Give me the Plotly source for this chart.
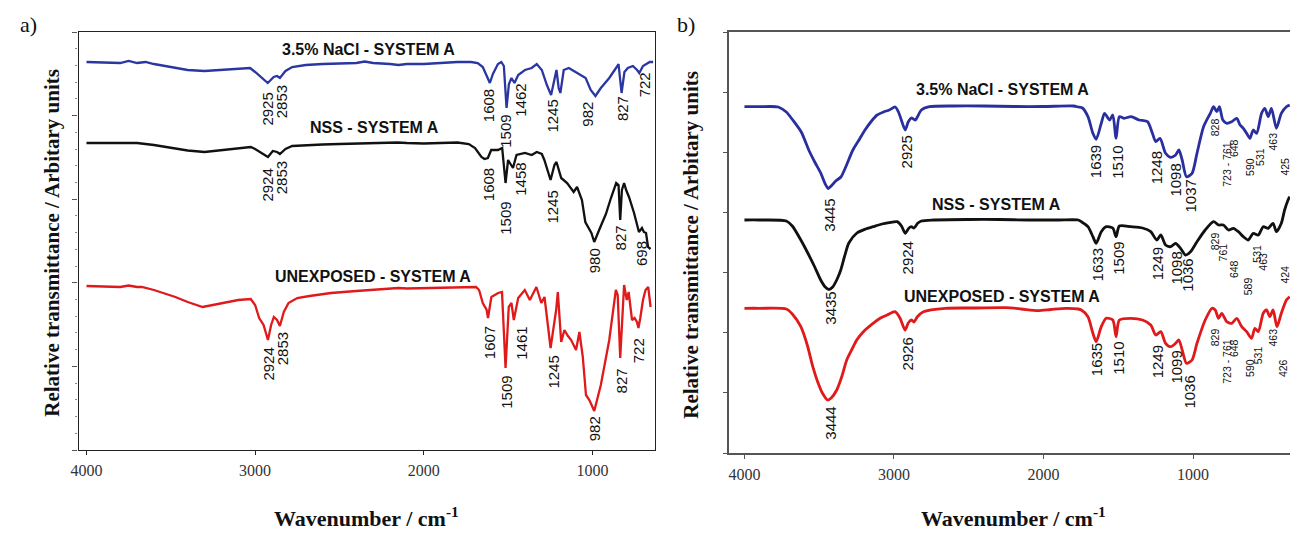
import plotly.graph_objects as go

# ---------------- DATA ----------------
# Panel a) : wavenumber (cm-1) and relative transmittance (arbitrary units)
a_nacl_wn = [4000, 3900, 3800, 3750, 3720, 3700, 3650, 3600, 3500, 3400,
             3300, 3200, 3100, 3030, 3000, 2960, 2925, 2890, 2870, 2853,
             2820, 2780, 2700, 2600, 2500, 2400, 2350, 2300, 2200, 2150,
             2100, 2000, 1900, 1800, 1720, 1680, 1650, 1620, 1608, 1590,
             1560, 1540, 1525, 1509, 1495, 1480, 1462, 1440, 1400, 1360,
             1330, 1300, 1270, 1245, 1225, 1213, 1200, 1190, 1170, 1140,
             1100, 1070, 1040, 1010, 982, 950, 900, 860, 845, 827,
             810, 790, 760, 735, 722, 700, 660, 640]
a_nacl_val = [38.8, 38.75, 38.7, 38.9, 38.8, 38.7, 38.8, 38.6, 38.3, 38.0,
              37.9, 38.0, 38.1, 38.2, 37.8, 37.2, 36.7, 37.3, 37.4, 37.2,
              37.9, 38.3, 38.5, 38.6, 38.65, 38.7, 38.85, 38.7, 38.6, 38.5,
              38.6, 38.6, 38.7, 38.8, 38.8, 38.7, 38.3, 37.2, 36.7, 37.6,
              38.6, 38.8, 38.4, 34.2, 36.6, 37.2, 36.7, 37.5, 38.0, 38.2,
              38.6, 38.0, 36.5, 35.5, 37.0, 38.0, 36.2, 35.7, 38.0, 38.2,
              37.8, 37.5, 37.2, 36.0, 35.4, 36.2, 37.2, 38.2, 38.6, 35.7,
              37.8, 38.2, 38.4, 38.0, 37.7, 38.4, 38.8, 38.8]

a_nss_wn = [4000, 3900, 3800, 3700, 3600, 3500, 3400, 3300, 3200, 3100,
            3026, 3000, 2960, 2924, 2895, 2870, 2853, 2820, 2780, 2700,
            2600, 2500, 2400, 2300, 2200, 2156, 2100, 2000, 1900, 1800,
            1733, 1696, 1658, 1640, 1620, 1600, 1560, 1535, 1515, 1500,
            1471, 1450, 1400, 1360, 1330, 1300, 1285, 1248, 1225, 1213,
            1185, 1150, 1111, 1091, 1062, 1042, 1006, 989, 960, 920,
            890, 859, 845, 835, 825, 812, 800, 783, 753, 735,
            724, 706, 695, 682, 670, 655]
a_nss_val = [30.7, 30.7, 30.75, 30.7, 30.5, 30.2, 29.95, 29.8, 30.0, 30.2,
             30.3, 30.1, 29.7, 29.3, 29.9, 29.8, 29.6, 30.1, 30.4, 30.5,
             30.55, 30.6, 30.65, 30.7, 30.7, 30.75, 30.7, 30.65, 30.7, 30.75,
             30.6, 30.2, 29.3, 29.1, 29.2, 30.0, 30.0, 30.2, 26.7, 29.0,
             28.2, 29.5, 29.7, 29.5, 29.8, 29.6, 29.0, 27.0, 28.5, 28.8,
             27.2, 26.7, 25.8, 26.3, 25.0, 22.8, 21.7, 20.8, 22.0, 23.6,
             25.2, 26.7, 26.5, 23.0, 26.0, 26.7, 26.0, 25.3, 23.7, 22.5,
             21.8, 22.2, 21.8, 21.7, 20.3, 20.1]

a_unexp_wn = [4000, 3900, 3800, 3750, 3700, 3672, 3600, 3473, 3400, 3311,
              3250, 3175, 3100, 3026, 3000, 2976, 2950, 2924, 2905, 2889,
              2870, 2853, 2830, 2802, 2750, 2678, 2550, 2400, 2230, 2150,
              2100, 1982, 1850, 1733, 1690, 1672, 1650, 1627, 1619, 1599,
              1559, 1536, 1515, 1496, 1480, 1466, 1440, 1401, 1385, 1371,
              1332, 1303, 1284, 1248, 1215, 1205, 1185, 1166, 1145, 1126,
              1097, 1077, 1057, 1038, 1018, 989, 950, 900, 861, 850,
              835, 812, 796, 785, 765, 750, 736, 727, 716, 700,
              685, 669, 655]
a_unexp_val = [16.4, 16.35, 16.3, 16.45, 16.3, 16.3, 16.0, 15.3, 14.8, 14.3,
               14.5, 14.8, 15.0, 15.1, 14.5, 13.2, 12.5, 11.0, 12.5, 13.3,
               13.0, 12.4, 13.8, 14.7, 15.2, 15.4, 15.7, 15.9, 16.1, 16.2,
               16.15, 16.2, 16.3, 16.3, 16.3, 16.0, 14.7, 14.0, 13.2, 15.3,
               15.7, 15.8, 8.2, 14.3, 14.7, 13.0, 15.2, 16.0, 15.5, 15.0,
               16.3, 14.7, 15.3, 10.2, 14.0, 15.8, 10.8, 12.0, 11.4, 11.0,
               10.0, 11.8, 9.3, 5.5, 5.0, 3.9, 6.5, 11.0, 16.0, 15.5,
               9.2, 16.5, 15.0, 15.8, 13.0, 13.2, 12.8, 12.2, 13.2, 15.0,
               16.0, 16.3, 14.3]

# Panel b)
b_nacl_wn = [4000, 3900, 3774, 3720, 3677, 3620, 3570, 3530, 3490, 3460,
             3440, 3420, 3390, 3355, 3320, 3275, 3230, 3194, 3150, 3113,
             3070, 3032, 2992, 2970, 2951, 2925, 2905, 2884, 2870, 2857,
             2817, 2763, 2600, 2400, 2200, 2000, 1800, 1768, 1740, 1703,
             1670, 1648, 1614, 1592, 1559, 1537, 1515, 1493, 1460, 1415,
             1360, 1305, 1272, 1250, 1221, 1184, 1150, 1117, 1095, 1073,
             1044, 1007, 974, 930, 885, 863, 841, 824, 801, 775,
             742, 708, 686, 664, 642, 620, 598, 575, 542, 520,
             498, 476, 443, 410, 376, 354]
b_nacl_val = [34.63, 34.63, 34.6, 34.1, 33.3, 32.1, 30.3, 29.1, 28.0, 26.9,
              26.45, 26.7, 27.2, 27.6, 28.7, 30.3, 31.4, 32.3, 33.2, 33.8,
              34.1, 34.3, 34.6, 34.1, 33.3, 32.3, 33.1, 33.5, 33.4, 33.3,
              34.3, 34.63, 34.7, 34.7, 34.65, 34.65, 34.7, 34.6, 34.5, 33.63,
              31.97, 31.37, 32.97, 33.97, 33.3, 33.8, 31.47, 33.63, 33.47, 33.63,
              33.3, 33.13, 31.97, 31.13, 31.47, 29.97, 29.57, 29.8, 30.3, 29.3,
              27.63, 27.97, 29.97, 32.63, 33.97, 34.63, 34.13, 34.63, 33.3, 32.97,
              33.13, 33.47, 32.8, 32.47, 31.97, 31.47, 32.3, 31.97, 33.97, 34.47,
              33.63, 34.47, 32.47, 33.97, 34.63, 34.8]

b_nss_wn = [4000, 3900, 3720, 3680, 3623, 3580, 3530, 3490, 3460, 3435,
            3410, 3380, 3356, 3330, 3302, 3248, 3190, 3140, 3080, 3033,
            2979, 2950, 2925, 2900, 2884, 2866, 2840, 2817, 2737, 2500,
            2300, 2100, 1900, 1768, 1747, 1703, 1670, 1648, 1614, 1581,
            1537, 1515, 1493, 1415, 1338, 1283, 1243, 1216, 1184, 1150,
            1117, 1084, 1051, 1017, 974, 919, 863, 830, 797, 764,
            731, 697, 664, 631, 598, 564, 531, 498, 465, 443,
            410, 388, 365, 354]
b_nss_val = [23.3, 23.3, 23.2, 22.7, 21.3, 20.1, 18.6, 17.3, 16.6, 16.35,
             16.6, 17.4, 18.3, 19.7, 21.0, 22.0, 22.4, 22.63, 22.9, 23.03,
             23.13, 22.7, 21.97, 22.5, 22.63, 22.5, 23.0, 23.2, 23.3, 23.35,
             23.35, 23.3, 23.3, 23.3, 23.13, 22.63, 21.63, 20.97, 22.13, 22.63,
             22.5, 21.63, 22.7, 22.63, 22.5, 22.13, 21.3, 21.8, 20.8, 20.63,
             20.97, 20.47, 19.8, 20.13, 21.13, 22.3, 23.13, 22.8, 22.8, 22.3,
             22.47, 22.13, 21.63, 21.3, 21.97, 21.8, 22.63, 22.47, 22.97, 22.13,
             22.97, 24.3, 25.3, 25.63]

b_unexp_wn = [4000, 3900, 3720, 3680, 3623, 3580, 3543, 3510, 3478, 3444,
              3420, 3383, 3350, 3316, 3280, 3249, 3200, 3140, 3090, 3046,
              2993, 2960, 2926, 2905, 2884, 2866, 2845, 2803, 2656, 2450,
              2253, 2150, 2038, 1950, 1850, 1768, 1747, 1703, 1670, 1648,
              1614, 1581, 1537, 1515, 1493, 1415, 1338, 1283, 1250, 1216,
              1184, 1150, 1117, 1095, 1073, 1044, 1007, 974, 919, 874,
              852, 830, 808, 775, 742, 708, 675, 642, 609, 587,
              564, 531, 509, 487, 465, 439, 410, 376, 354]
b_unexp_val = [14.47, 14.47, 14.4, 13.9, 12.63, 10.8, 8.63, 7.1, 5.97, 5.3,
               5.5, 6.3, 7.6, 9.3, 10.4, 11.3, 12.2, 12.97, 13.5, 13.8,
               14.13, 13.5, 12.3, 13.0, 13.3, 13.1, 13.6, 14.13, 14.47, 14.5,
               14.53, 14.4, 14.23, 14.35, 14.47, 14.4, 14.3, 13.63, 11.97, 11.13,
               12.63, 13.47, 13.3, 11.63, 13.3, 13.47, 13.3, 12.8, 11.8, 12.13,
               10.97, 10.63, 10.97, 11.3, 10.3, 8.97, 9.3, 10.97, 13.3, 14.47,
               14.3, 13.47, 13.97, 13.13, 12.97, 13.47, 12.63, 12.13, 11.47, 12.47,
               12.13, 13.97, 14.3, 13.63, 14.3, 12.63, 13.97, 15.3, 15.63]

# Series names
series_names = ["3.5% NaCl - SYSTEM A", "NSS - SYSTEM A", "UNEXPOSED - SYSTEM A"]
a_name_wn = [2330, 2292, 2300]
a_name_y = [40.0, 32.2, 17.4]
b_name_wn = [2272, 2312, 2279]
b_name_y = [36.3, 24.8, 15.7]

# Peak labels, panel a)
a_nacl_lbl = ["2925", "2853", "1608", "1509", "1462", "1245", "982", "827", "722"]
a_nacl_lbl_wn = [2926, 2839, 1612, 1514, 1425, 1236, 1028, 818, 686]
a_nacl_lbl_y = [34.1, 34.8, 34.4, 31.9, 35.0, 33.4, 33.6, 34.1, 36.5]

a_nss_lbl = ["2924", "2853", "1608", "1509", "1458", "1245", "980", "827", "698"]
a_nss_lbl_wn = [2926, 2839, 1612, 1514, 1425, 1236, 989, 828, 706]
a_nss_lbl_y = [26.5, 27.2, 26.5, 23.2, 27.1, 24.3, 18.9, 21.2, 19.7]

a_unexp_lbl = ["2924", "2853", "1607", "1509", "1461", "1245", "982", "827", "722"]
a_unexp_lbl_wn = [2926, 2839, 1612, 1514, 1425, 1236, 989, 828, 728]
a_unexp_lbl_y = [8.6, 10.1, 10.7, 5.8, 10.7, 7.8, 2.1, 6.9, 9.9]

# Peak labels, panel b)
b_nacl_lbl = ["3445", "2925", "1639", "1510", "1248", "1098", "1037", "828",
              "723 - 761", "648", "590", "531", "463", "425"]
b_nacl_lbl_wn = [3430, 2910, 1648, 1504, 1239, 1117, 1017, 852, 775, 726, 620, 553, 469, 388]
b_nacl_lbl_y = [23.8, 30.1, 29.1, 29.1, 28.5, 27.3, 25.7, 32.6, 28.9, 30.5, 28.6, 29.6, 31.1, 28.6]

b_nss_lbl = ["3435", "2924", "1633", "1509", "1249", "1098", "1036", "829",
             "761", "648", "589", "531", "463", "424"]
b_nss_lbl_wn = [3430, 2910, 1640, 1504, 1239, 1117, 1043, 852, 797, 726, 631, 575, 535, 388]
b_nss_lbl_y = [14.5, 19.5, 18.8, 19.5, 18.9, 18.5, 17.8, 21.2, 20.1, 18.4, 16.7, 19.9, 19.1, 17.8]

b_unexp_lbl = ["3444", "2926", "1635", "1510", "1249", "1099", "1036", "829",
               "723 - 761", "648", "590", "531", "463", "426"]
b_unexp_lbl_wn = [3430, 2910, 1648, 1504, 1239, 1117, 1030, 852, 775, 726, 620, 564, 469, 398]
b_unexp_lbl_y = [3.0, 9.9, 9.3, 9.5, 9.1, 8.6, 6.1, 11.6, 9.2, 10.5, 8.5, 9.8, 11.5, 8.5]

x_ticks = [4000, 3000, 2000, 1000]

# ---------------- STYLE ----------------
W, H = 1290, 536
SANS = "Liberation Sans"
SERIF = "Liberation Serif"
BLUE_A, BLUE_B = "#2a36a2", "#2a2f9e"
BLACK = "#111111"
RED = "#e0191b"


def px_x(p):
    return p / W


def px_y(p):
    return (H - p) / H


fig = go.Figure()

panel_a = [(a_nacl_wn, a_nacl_val, BLUE_A), (a_nss_wn, a_nss_val, BLACK),
           (a_unexp_wn, a_unexp_val, RED)]
for wn, val, col in panel_a:
    fig.add_trace(go.Scatter(x=wn, y=val, mode="lines", xaxis="x", yaxis="y",
                             line=dict(color=col, width=2.3), hoverinfo="skip",
                             showlegend=False))

panel_b = [(b_nacl_wn, b_nacl_val, BLUE_B), (b_nss_wn, b_nss_val, BLACK),
           (b_unexp_wn, b_unexp_val, RED)]
for wn, val, col in panel_b:
    fig.add_trace(go.Scatter(x=wn, y=val, mode="lines", xaxis="x2", yaxis="y2",
                             line=dict(color=col, width=2.8, shape="spline", smoothing=0.7),
                             hoverinfo="skip", showlegend=False))

ann = []


def peak_labels(labels, wns, ys, xref, yref, small_below=None):
    for t, w, y in zip(labels, wns, ys):
        size = 15
        if small_below is not None and w < small_below:
            size = 10.5
        ann.append(dict(x=w, y=y, xref=xref, yref=yref, text=t, showarrow=False,
                        textangle=-90, xanchor="center", yanchor="middle",
                        font=dict(family=SANS, size=size, color="#111")))


peak_labels(a_nacl_lbl, a_nacl_lbl_wn, a_nacl_lbl_y, "x", "y")
peak_labels(a_nss_lbl, a_nss_lbl_wn, a_nss_lbl_y, "x", "y")
peak_labels(a_unexp_lbl, a_unexp_lbl_wn, a_unexp_lbl_y, "x", "y")
peak_labels(b_nacl_lbl, b_nacl_lbl_wn, b_nacl_lbl_y, "x2", "y2", small_below=900)
peak_labels(b_nss_lbl, b_nss_lbl_wn, b_nss_lbl_y, "x2", "y2", small_below=900)
peak_labels(b_unexp_lbl, b_unexp_lbl_wn, b_unexp_lbl_y, "x2", "y2", small_below=900)

for name, w, y in zip(series_names, a_name_wn, a_name_y):
    ann.append(dict(x=w, y=y, xref="x", yref="y", text=f"<b>{name}</b>", showarrow=False,
                    xanchor="center", yanchor="middle",
                    font=dict(family=SANS, size=16, color="#111")))
for name, w, y in zip(series_names, b_name_wn, b_name_y):
    ann.append(dict(x=w, y=y, xref="x2", yref="y2", text=f"<b>{name}</b>", showarrow=False,
                    xanchor="center", yanchor="middle",
                    font=dict(family=SANS, size=16, color="#111")))

ytitle = "<b>Relative transmittance / Arbitary units</b>"
xtitle = "<b>Wavenumber / cm<sup>-1</sup></b>"
for xp, yp in [(44, 243), (687, 245)]:
    ann.append(dict(x=px_x(xp), y=px_y(yp), xref="paper", yref="paper", text=ytitle,
                    textangle=-90, showarrow=False, xanchor="center", yanchor="middle",
                    font=dict(family=SERIF, size=21, color="#111")))
for xp in [361, 1012]:
    ann.append(dict(x=px_x(xp), y=px_y(517), xref="paper", yref="paper", text=xtitle,
                    showarrow=False, xanchor="center", yanchor="middle",
                    font=dict(family=SERIF, size=22, color="#111")))
for txt, xp in [("a)", 21), ("b)", 682)]:
    ann.append(dict(x=px_x(xp), y=px_y(24), xref="paper", yref="paper", text=txt,
                    showarrow=False, xanchor="center", yanchor="middle",
                    font=dict(family=SERIF, size=22, color="#111")))

common_x = dict(tickmode="array", tickvals=x_ticks, ticktext=[str(v) for v in x_ticks],
                ticks="outside", ticklen=4, showline=True, mirror=True,
                showgrid=False, zeroline=False, ticklabelstandoff=2,
                tickfont=dict(family=SERIF, size=16, color="#333"))
common_y = dict(tickmode="linear", tick0=0, ticks="outside", ticklen=5,
                showticklabels=False, showline=True, showgrid=False, zeroline=False)

fig.update_layout(
    width=W, height=H, margin=dict(l=0, r=0, t=0, b=0),
    paper_bgcolor="white", plot_bgcolor="white",
    xaxis=dict(domain=[px_x(71), px_x(651)], range=[4047, 629], anchor="y",
               linecolor="#222", tickcolor="#222", linewidth=1.2, **common_x),
    yaxis=dict(domain=[px_y(450), px_y(32)], range=[0, 41.8], dtick=8.36, anchor="x",
               mirror=True, linecolor="#222", tickcolor="#555", linewidth=1.2,
               minor=dict(ticks="outside", ticklen=2, dtick=1.672, tickcolor="#888"),
               **common_y),
    xaxis2=dict(domain=[px_x(726), 1.0], range=[4100, 352], anchor="y2",
                linecolor="#555", tickcolor="#555", linewidth=1.5, **common_x),
    yaxis2=dict(domain=[px_y(453), px_y(32)], range=[0, 42.1], dtick=6.014, anchor="x2",
                mirror=False, linecolor="#555", tickcolor="#555", linewidth=1.5,
                **common_y),
    annotations=ann,
)

fig.write_html(
    "out.html",
    config={"displayModeBar": False},
    post_script="document.body.style.margin='0';document.body.style.overflow='hidden';",
)
